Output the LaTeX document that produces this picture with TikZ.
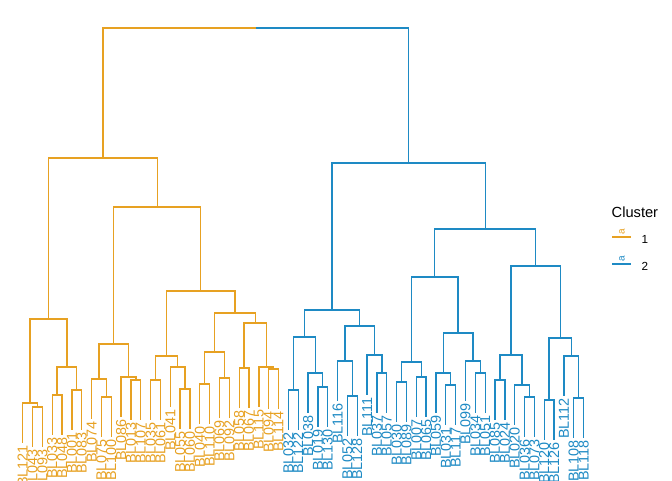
\documentclass[tikz,border=0pt]{standalone}
\usepackage{fontspec}
\setmainfont{Liberation Sans}
\usetikzlibrary{calc}
\definecolor{clA}{HTML}{E7A122}
\definecolor{clB}{HTML}{1E8AC4}
\newcommand{\dmerge}[4]{%
  \coordinate (h#1) at (0,#4);
  \coordinate (m#1) at ($(#2)!.5!(#3)$);
  \coordinate (#1) at (m#1 |- h#1);
  \draw (#1) -| (#2) (#1) -| (#3);
}

\begin{document}
\begin{tikzpicture}[
    x=0.75pt, y=-0.75pt,
    line width=1pt,
    leaflab/.style={rotate=90, anchor=east, inner sep=0pt, font=\fontsize{10.8}{12}\selectfont},
    keytxt/.style={anchor=west, inner sep=0pt, font=\fontsize{8.8}{10}\selectfont},
    keyglyph/.style={rotate=90, inner sep=0pt, font=\fontsize{7.5}{8}\selectfont}
  ]
    \useasboundingbox (0,0) rectangle (672,480);
    \clip (0,0) rectangle (672,480);

    \begin{scope}[clA]
      \foreach \nm/\i/\h in {BL121/0/403, BL043/1/407, BL093/2/407, BL033/3/395, BL048/4/395,
          BL001/5/390, BL083/6/390, BL074/7/379, BL075/8/397, BL100/9/397, BL086/10/377,
          BL013/11/380, BL107/12/380, BL035/13/380, BL061/14/380, BL041/15/367, BL055/16/389,
          BL060/17/389, BL040/18/384, BL110/19/384, BL069/20/378, BL092/21/378, BL058/22/368,
          BL067/23/368, BL115/24/367, BL094/25/369, BL114/26/369}{
        \coordinate (\nm) at ({22.7+9.84*\i},{\h+39.5});
        \node[leaflab] (t\nm) at ($(\nm)+(0,2)$) {\nm};
      }
      \dmerge{n1}{BL043}{BL093}{407}
      \dmerge{n2}{BL121}{n1}{403}
      \dmerge{n3}{BL033}{BL048}{395}
      \dmerge{n4}{BL001}{BL083}{390}
      \dmerge{n5}{n3}{n4}{367}
      \dmerge{n6}{n2}{n5}{319}
      \dmerge{n7}{BL075}{BL100}{397}
      \dmerge{n8}{BL074}{n7}{379}
      \dmerge{n9}{BL013}{BL107}{380}
      \dmerge{n10}{BL086}{n9}{377}
      \dmerge{n11}{n8}{n10}{344}
      \dmerge{n12}{BL035}{BL061}{380}
      \dmerge{n13}{BL055}{BL060}{389}
      \dmerge{n14}{BL041}{n13}{367}
      \dmerge{n15}{n12}{n14}{356}
      \dmerge{n16}{BL040}{BL110}{384}
      \dmerge{n17}{BL069}{BL092}{378}
      \dmerge{n18}{n16}{n17}{352}
      \dmerge{n19}{BL058}{BL067}{368}
      \dmerge{n20}{BL094}{BL114}{369}
      \dmerge{n21}{BL115}{n20}{367}
      \dmerge{n22}{n19}{n21}{323}
      \dmerge{n23}{n18}{n22}{313}
      \dmerge{n24}{n15}{n23}{291}
      \dmerge{n25}{n11}{n24}{207}
      \dmerge{n26}{n6}{n25}{158}
    \end{scope}

    \begin{scope}[clB]
      \foreach \nm/\i/\h in {BL032/27/390, BL122/28/390, BL038/29/373, BL019/30/387, BL130/31/387,
          BL116/32/361, BL052/33/396, BL128/34/396, BL111/35/355, BL037/36/373, BL057/37/373,
          BL030/38/382, BL089/39/382, BL007/40/377, BL065/41/377, BL059/42/373, BL031/43/385,
          BL117/44/385, BL099/45/361, BL034/46/373, BL051/47/373, BL085/48/380, BL024/49/380,
          BL020/50/385, BL036/51/397, BL073/52/397, BL120/53/400, BL126/54/400, BL112/55/356,
          BL108/56/398, BL118/57/398}{
        \coordinate (\nm) at ({22.7+9.84*\i},{\h+39.5});
        \node[leaflab] (t\nm) at ($(\nm)+(0,2)$) {\nm};
      }
      \dmerge{m1}{BL032}{BL122}{390}
      \dmerge{m2}{BL019}{BL130}{387}
      \dmerge{m3}{BL038}{m2}{373}
      \dmerge{m4}{m1}{m3}{337}
      \dmerge{m5}{BL052}{BL128}{396}
      \dmerge{m6}{BL116}{m5}{361}
      \dmerge{m7}{BL037}{BL057}{373}
      \dmerge{m8}{BL111}{m7}{355}
      \dmerge{m9}{m6}{m8}{326}
      \dmerge{m10}{m4}{m9}{310}
      \dmerge{k1}{BL030}{BL089}{382}
      \dmerge{k2}{BL007}{BL065}{377}
      \dmerge{k3}{k1}{k2}{362}
      \dmerge{k4}{BL031}{BL117}{385}
      \dmerge{k5}{BL059}{k4}{373}
      \dmerge{k6}{BL034}{BL051}{373}
      \dmerge{k7}{BL099}{k6}{361}
      \dmerge{k8a}{BL036}{BL073}{397}
      \dmerge{k8}{BL020}{k8a}{385}
      \dmerge{k9}{BL085}{BL024}{380}
      \dmerge{k10}{k9}{k8}{355}
      \dmerge{k11}{BL120}{BL126}{400}
      \dmerge{k12}{BL108}{BL118}{398}
      \dmerge{k13}{BL112}{k12}{356}
      \dmerge{k14}{k11}{k13}{338}
      \dmerge{k16}{k5}{k7}{333}
      \dmerge{k17}{k3}{k16}{277}
      \dmerge{k15}{k10}{k14}{266}
      \dmerge{k18}{k17}{k15}{229}
      \dmerge{m11}{m10}{k18}{163}
    \end{scope}

    \coordinate (hroot) at (0,28);
    \coordinate (mroot) at ($(n26)!.5!(m11)$);
    \coordinate (root) at (mroot |- hroot);
    \draw[clA] (root) -| (n26);
    \draw[clB] (root) -| (m11);

    \node[anchor=west, inner sep=0pt, font=\fontsize{11}{13}\selectfont] (ttl) at (611,212) {Cluster};
    \coordinate (k1w) at (612,237);
    \coordinate (k1e) at (631,237);
    \draw[clA] (k1w) -- (k1e);
    \node[keyglyph, clA] (g1) at (622,232) {a};
    \node[keytxt] (v1) at (641,239) {1};
    \coordinate (k2w) at (612,264);
    \coordinate (k2e) at (631,264);
    \draw[clB] (k2w) -- (k2e);
    \node[keyglyph, clB] (g2) at (622,259) {a};
    \node[keytxt] (v2) at (641,266) {2};
\end{tikzpicture}
\end{document}
